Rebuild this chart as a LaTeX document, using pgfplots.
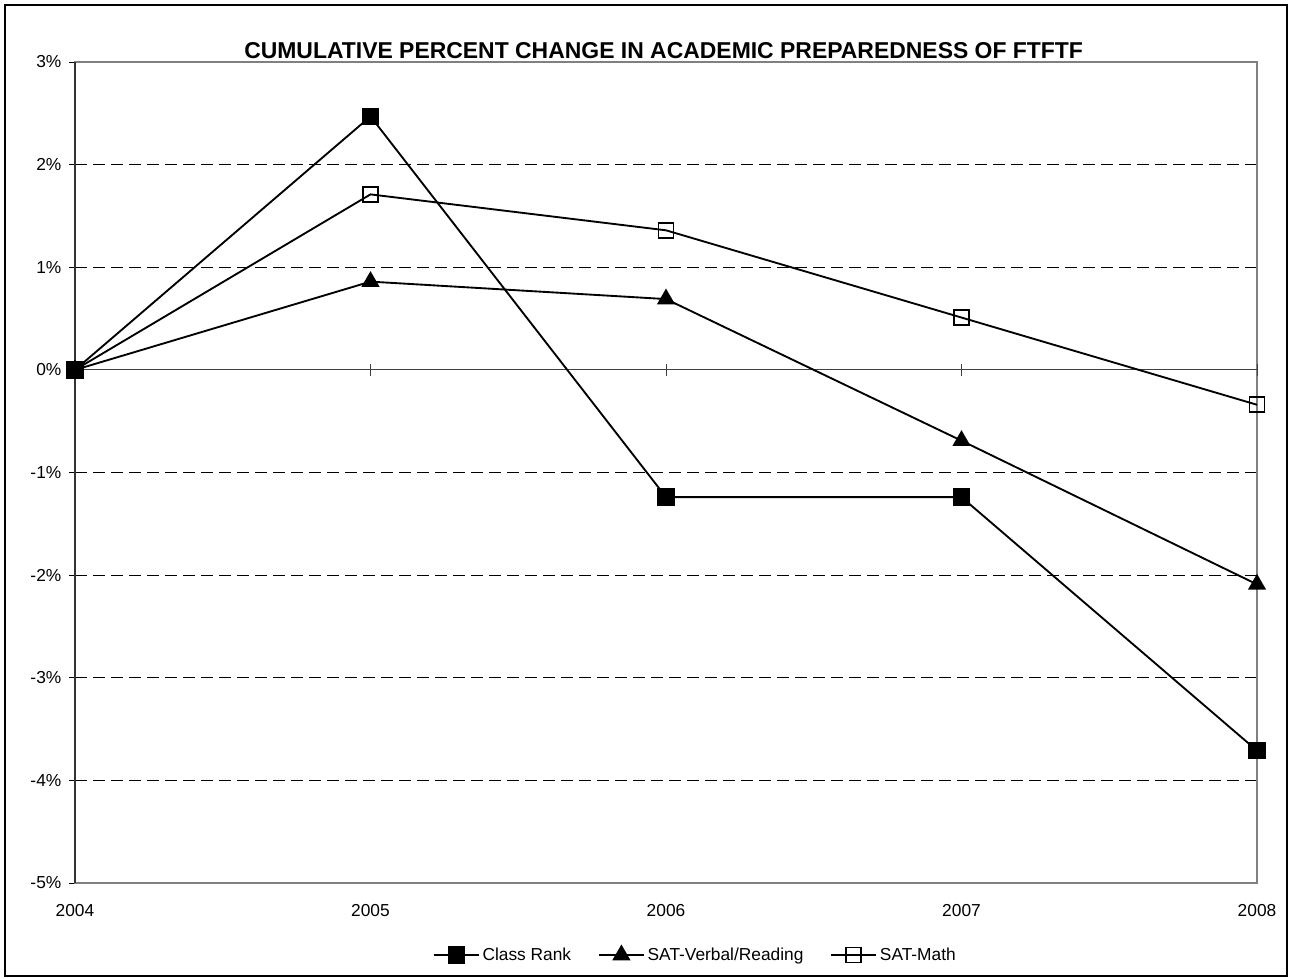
\documentclass[border=0pt]{standalone}
\usepackage{fontspec}
\setmainfont{Liberation Sans}
\usepackage{pgfplots}
\pgfplotsset{compat=1.18}

% series values, percent change relative to 2004
\pgfplotstableread{
year rank verbal math
2004 0.00 0.00 0.00
2005 2.47 0.86 1.71
2006 -1.24 0.69 1.36
2007 -1.24 -0.69 0.51
2008 -3.71 -2.09 -0.34
}\prepdata

\begin{document}
\begin{tikzpicture}
\begin{scope}[x=0.75pt,y=-0.75pt]
  \useasboundingbox (0,0) rectangle (1295,978);
  \draw[line width=1.5pt] (5,5) rectangle (1287,976);
\end{scope}
\begin{axis}[
    at={(56.25pt,-662.25pt)}, anchor=south west,
    scale only axis, width=886.5pt, height=615.75pt,
    xmin=2004, xmax=2008, ymin=-5, ymax=3,
    xtick={2004,2005,2006,2007,2008},
    ytick={-5,-4,-3,-2,-1,0,1,2,3},
    /pgf/number format/assume math mode=true,
    xticklabel={\pgfmathprintnumber[1000 sep={}]{\tick}},
    yticklabel={\pgfmathprintnumber{\tick}\%},
    ticklabel style={font=\fontsize{13}{15}\selectfont},
    x tick style={draw=none},
    xticklabel style={yshift=-8pt},
    yticklabel style={xshift=-2.25pt},
    ytick pos=left, tick align=outside,
    major tick length=4.5pt,
    y tick style={black, line width=0.75pt},
    axis line style={draw=gray, line width=1pt},
    ymajorgrids,
    major grid style={black, line width=0.6pt, dash pattern=on 9pt off 4.5pt},
    title={CUMULATIVE PERCENT CHANGE IN ACADEMIC PREPAREDNESS OF FTFTF},
    title style={at={(0.498,1)}, anchor=base, yshift=-3pt,
      font=\bfseries\fontsize{17.2}{19}\selectfont},
    legend columns=3,
    legend style={draw=none, at={(0.525,-0.0877)}, anchor=center,
      font=\fontsize{13}{15}\selectfont,
      /tikz/every even column/.append style={column sep=18pt}},
    legend image code/.code={
      \draw[mark repeat=2, mark phase=2] plot coordinates {(0pt,0pt) (17pt,0pt) (34pt,0pt)};
    },
    clip=false,
]
  \addplot[forget plot, draw=black!75, line width=0.75pt, mark=|, mark size=4.5pt,
    mark options={solid, line width=0.75pt}]
    coordinates {(2004,0) (2005,0) (2006,0) (2007,0) (2008,0)};
  \draw[black!80, line width=1.5pt] (rel axis cs:0,0) -- (rel axis cs:0,1);

  \addplot[black, line width=1.4pt, mark=square*, mark size=5.8pt,
    mark options={solid, fill=black}] table[x=year, y=rank] {\prepdata};
  \addlegendentry{Class Rank}
  \addplot[black, line width=1.4pt, mark=triangle*, mark size=6.5pt,
    mark options={solid, fill=black}] table[x=year, y=verbal] {\prepdata};
  \addlegendentry{SAT-Verbal/Reading}
  \addplot[black, line width=1.4pt, mark=square, mark size=5.6pt,
    mark options={solid, fill=white, line width=1.3pt}] table[x=year, y=math] {\prepdata};
  \addlegendentry{SAT-Math}
\end{axis}
\end{tikzpicture}
\end{document}
